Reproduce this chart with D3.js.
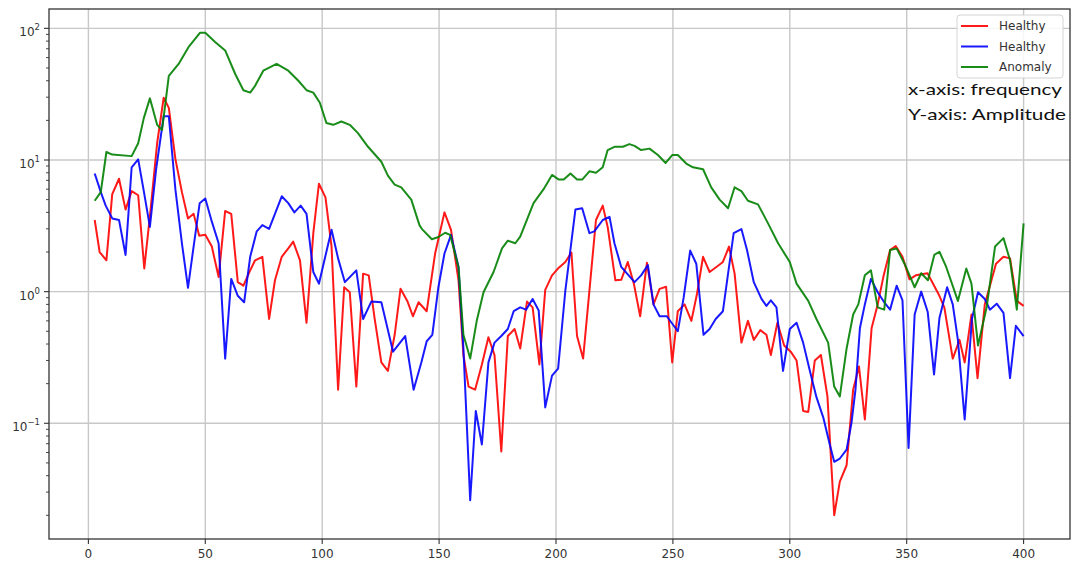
<!DOCTYPE html>
<html>
<head>
<meta charset="utf-8">
<script src="https://cdn.jsdelivr.net/npm/d3@7"></script>
<style>
  html, body { margin: 0; padding: 0; background: #fff; }
  svg { display: block; }
</style>
</head>
<body>
<svg id="chart" width="1073" height="564"></svg>
<script>
// spectrum vertices: [frequency, amplitude]
const healthyRed = [
  [2.7,3.5],[4.8,2.0],[7.7,1.73],[10.2,5.5],[13.1,7.2],[15.9,4.2],[18.5,5.8],[21.3,5.4],[23.9,1.5],[26.6,4.2],
  [29.4,13.4],[32.2,29.7],[34.4,24.9],[37.2,10.2],[40,5.7],[42.6,3.6],[45,3.9],[47.4,2.66],[50,2.7],[52.8,2.2],
  [55.7,1.29],[58.5,4.1],[61.1,3.9],[63.9,1.18],[66.3,1.11],[69.2,1.45],[71.3,1.73],[74.4,1.84],[77.3,0.62],[79.8,1.22],
  [82.7,1.84],[85.5,2.13],[87.6,2.4],[90.5,1.73],[93.3,0.58],[96.2,2.78],[98.6,6.6],[101.4,5.2],[104,2.2],[106.8,0.18],
  [109.4,1.08],[111.8,0.99],[114.6,0.19],[117.5,1.37],[119.9,1.33],[122.4,0.63],[125.3,0.29],[128.1,0.25],[131,0.47],[133.5,1.05],
  [136.4,0.85],[138.8,0.65],[141.2,0.83],[144.7,0.71],[148.3,1.95],[152.3,4.0],[155.1,2.95],[158.3,1.22],[160.4,0.33],[162.6,0.19],
  [165.4,0.18],[168.3,0.28],[171.1,0.45],[173.7,0.33],[176.6,0.061],[179.4,0.46],[182.3,0.52],[184.7,0.37],[187.6,0.84],[190,0.76],
  [192.9,0.28],[195.4,1.03],[198.3,1.33],[201.2,1.52],[204,1.68],[206.6,1.98],[209,0.46],[211.6,0.31],[217.1,3.5],[220,4.5],
  [222.1,3.1],[225.4,1.22],[227.9,1.23],[230.7,1.68],[233.3,1.15],[236,0.65],[238.9,1.66],[241.7,0.8],[244.3,1.05],[247.1,1.09],
  [249.7,0.29],[252.1,0.71],[255,0.8],[257.9,0.6],[260.3,0.96],[262.9,1.84],[265.7,1.41],[268.6,1.54],[271.4,1.68],[274,2.2],
  [276.4,1.37],[279.3,0.41],[282.1,0.6],[284.6,0.43],[287.4,0.51],[290,0.47],[291.9,0.33],[294.7,0.58],[297.6,0.39],[300.4,0.35],
  [302.9,0.3],[305.7,0.124],[307.9,0.122],[310.7,0.3],[313.3,0.33],[316.1,0.16],[319,0.02],[321.4,0.036],[324.3,0.048],[327.1,0.18],
  [329.6,0.27],[332.1,0.107],[335,0.53],[337.6,0.8],[340,1.29],[342.9,2.07],[345.3,2.22],[348.2,1.84],[351.2,1.24],[353.9,1.33],
  [358.9,1.38],[363.6,0.96],[366.1,0.76],[369.7,0.31],[372.6,0.43],[374.8,0.29],[377.7,0.67],[380.3,0.22],[383.4,0.8],[388.2,1.63],
  [391.4,1.84],[394.2,1.79],[397.1,0.85],[400,0.78]
];

const healthyBlue = [
  [2.7,7.9],[5.3,5.7],[7.4,4.5],[10.2,3.6],[13.1,3.5],[15.9,1.9],[18.5,8.8],[21.3,10.1],[23.7,5.8],[26.3,3.1],
  [29,8.6],[32.2,21.5],[34.4,21.5],[37.2,6.0],[40,2.33],[42.6,1.07],[45,2.2],[47.6,4.7],[50,5.1],[52.8,3.4],
  [55.7,2.33],[58.5,0.31],[61.1,1.25],[63.9,0.93],[66.6,0.83],[69.2,1.84],[72,2.87],[74.4,3.2],[77.3,3.0],[82.7,5.3],
  [85.5,4.7],[88.1,4.0],[90.8,4.5],[93.3,3.9],[96.2,1.41],[98.6,1.15],[104,2.95],[106.8,1.79],[109.7,1.18],[114.6,1.45],
  [117.5,0.62],[121,0.84],[125.3,0.83],[130.3,0.35],[135.5,0.46],[139.1,0.18],[142.4,0.29],[144.7,0.42],[147.1,0.47],[149.7,1.08],
  [152.3,1.95],[155.1,2.7],[158.3,1.54],[160.4,0.37],[163.3,0.026],[165.7,0.124],[168.3,0.069],[171.1,0.29],[173.7,0.41],[176.6,0.46],
  [179.4,0.52],[181.9,0.71],[184.7,0.76],[187.2,0.73],[190,0.88],[192.6,0.72],[195.4,0.132],[198.3,0.23],[200.9,0.26],[204,1.02],
  [208.3,4.2],[211.2,4.3],[214.3,2.78],[216.4,2.87],[220,3.5],[222.9,3.7],[225,2.33],[227.9,1.54],[233.6,1.18],[236.4,1.33],
  [239.3,1.59],[241.7,0.8],[244.3,0.65],[247.4,0.65],[252.1,0.5],[254.6,0.9],[257.4,2.05],[260,1.63],[263.1,0.47],[265.7,0.52],
  [268.3,0.62],[271.4,0.71],[273.6,1.37],[276,2.78],[279.3,2.99],[281.7,2.07],[284.6,1.18],[287.9,0.88],[290,0.78],[291.9,0.86],
  [294.3,0.76],[297.1,0.25],[300,0.52],[302.9,0.58],[305.7,0.41],[308.6,0.25],[311.4,0.158],[314.3,0.111],[317.1,0.069],[319,0.051],
  [321.4,0.054],[324.3,0.063],[326.4,0.101],[328.1,0.18],[330,0.53],[332.1,0.8],[334.7,1.25],[337.6,0.99],[340.4,0.83],[342.9,0.73],
  [345.7,1.11],[348.2,0.86],[350.8,0.065],[353.4,0.67],[356.2,1.0],[359,0.7],[361.7,0.235],[364,0.63],[367.3,1.08],[369.7,0.8],
  [371.9,0.43],[374.8,0.107],[377.9,0.62],[380.5,0.99],[383.4,0.88],[385.6,0.73],[388.5,0.81],[391.4,0.69],[394.2,0.22],[396.7,0.55],
  [400,0.46]
];

const anomalyGreen = [
  [2.7,4.9],[5.3,5.7],[7.7,11.5],[10.2,11.0],[18.5,10.7],[21.3,13.4],[23.7,20.8],[26.3,29.4],[29.4,18.5],[31.5,16.9],
  [34.4,43.6],[38.6,53.7],[42.8,72],[47.8,92.7],[50,92.7],[54.2,78.9],[58.5,68],[62.8,45],[66.3,33.9],[69.2,32.5],
  [71.3,36.6],[74.8,47.7],[80.5,53.7],[85.5,47.7],[89.8,40],[93.3,33.9],[96.2,32.5],[99,27.2],[101.8,19.1],[104.7,18.5],
  [108.2,19.6],[111.8,18.5],[115.3,16],[119.6,12.6],[125.3,9.7],[128.1,7.6],[131,6.5],[133.8,6.2],[138.1,5.0],[141.6,3.2],
  [142.6,3.0],[146.9,2.5],[149.7,2.6],[152.6,2.8],[154.7,2.7],[158.3,1.54],[160.4,0.47],[163.3,0.31],[166.1,0.6],[169,0.99],
  [173.3,1.41],[176.9,2.13],[179.4,2.44],[182.6,2.33],[184.7,2.62],[190.4,4.7],[194.7,6.0],[198.3,7.7],[201.2,7.1],[203.3,7.1],
  [206.2,7.9],[209,7.1],[211.2,7.1],[214.3,8.2],[217.1,8.0],[220,8.8],[222.1,11.9],[225,12.6],[228.6,12.6],[231.4,13.2],
  [233.6,12.8],[236.4,11.9],[240,12.2],[243.6,10.9],[246.9,9.5],[249.7,10.9],[252.1,10.9],[255.7,9.4],[258.6,8.8],[262.9,8.5],
  [266.4,6.2],[270,5.0],[273.6,4.3],[276.4,6.2],[279.3,5.8],[282.1,4.9],[286.4,4.6],[290.7,3.3],[295,2.33],[300,1.68],
  [302.9,1.15],[307.9,0.85],[311.4,0.62],[316.4,0.41],[319,0.19],[321.4,0.16],[324.3,0.37],[327.1,0.67],[329.3,0.8],[332.1,1.33],
  [334.7,1.45],[337.6,0.76],[340.4,0.73],[342.9,2.07],[345.7,2.13],[349.3,1.6],[353.4,1.08],[356.2,1.38],[359.1,1.22],[361.8,1.9],
  [364,2.01],[366.9,1.54],[371.9,0.85],[375.5,1.5],[377.7,1.15],[380.5,0.39],[384.2,0.76],[387.8,2.2],[391.4,2.55],[394.2,1.73],
  [397.1,0.73],[400,3.3]
];

const xTicks = [0, 50, 100, 150, 200, 250, 300, 350, 400];
const yExponents = [-1, 0, 1, 2];
const legendLabels = ['Healthy', 'Healthy', 'Anomaly'];
const notes = ['x-axis: frequency', 'Y-axis: Amplitude'];

const seriesList = [
  { data: healthyRed, color: '#ff0000' },
  { data: healthyBlue, color: '#0000ff' },
  { data: anomalyGreen, color: '#008000' },
];

const L = 49, T = 9, R = 1070, B = 539;
const svg = d3.select('#chart');

const x = d3.scaleLinear().domain([-16.85, 419.85]).range([L, R]);
const y = d3.scaleLog().domain([Math.pow(10, -1.879), Math.pow(10, 2.147)]).range([B, T]);

const tickFont = 'DejaVu Sans, sans-serif';
const axisColor = '#333';

// grid
const grid = svg.append('g').attr('stroke', '#c8c8c8').attr('stroke-width', 1.4);
xTicks.forEach(t => {
  grid.append('line').attr('x1', x(t)).attr('x2', x(t)).attr('y1', T).attr('y2', B);
});
yExponents.forEach(e => {
  const v = Math.pow(10, e);
  grid.append('line').attr('x1', L).attr('x2', R).attr('y1', y(v)).attr('y2', y(v));
});

// lines
svg.append('defs').append('clipPath').attr('id', 'plot-clip')
  .append('rect').attr('x', L).attr('y', T).attr('width', R - L).attr('height', B - T);

const line = d3.line().x(d => x(d[0])).y(d => y(d[1]));
const lineG = svg.append('g').attr('clip-path', 'url(#plot-clip)');
seriesList.forEach(s => {
  lineG.append('path')
    .attr('d', line(s.data))
    .attr('fill', 'none')
    .attr('stroke', s.color)
    .attr('stroke-width', 2)
    .attr('stroke-opacity', 0.9)
    .attr('stroke-linejoin', 'round');
});

// frame
svg.append('rect')
  .attr('x', L).attr('y', T).attr('width', R - L).attr('height', B - T)
  .attr('fill', 'none').attr('stroke', axisColor).attr('stroke-width', 1.3);

// x ticks
const xAxis = svg.append('g');
xTicks.forEach(t => {
  xAxis.append('line').attr('x1', x(t)).attr('x2', x(t)).attr('y1', B).attr('y2', B + 5)
    .attr('stroke', axisColor).attr('stroke-width', 1.1);
  xAxis.append('text')
    .attr('x', x(t)).attr('y', B + 19)
    .attr('text-anchor', 'middle')
    .attr('font-family', tickFont).attr('font-size', 12)
    .attr('fill', axisColor)
    .text(t);
});

// y ticks, major + log minors
const yAxis = svg.append('g');
const [y0, y1] = y.domain();
for (let e = -2; e <= 2; e++) {
  for (let k = 2; k <= 9; k++) {
    const v = k * Math.pow(10, e);
    if (v < y0 || v > y1) continue;
    yAxis.append('line').attr('x1', L - 3).attr('x2', L).attr('y1', y(v)).attr('y2', y(v))
      .attr('stroke', axisColor).attr('stroke-width', 0.9);
  }
}
yExponents.forEach(e => {
  const v = Math.pow(10, e);
  yAxis.append('line').attr('x1', L - 5).attr('x2', L).attr('y1', y(v)).attr('y2', y(v))
    .attr('stroke', axisColor).attr('stroke-width', 1.1);
  const txt = yAxis.append('text')
    .attr('x', L - 9).attr('y', y(v) + 8)
    .attr('text-anchor', 'end')
    .attr('font-family', tickFont).attr('font-size', 12)
    .attr('fill', axisColor);
  txt.append('tspan').text('10');
  txt.append('tspan').attr('dy', -6).attr('font-size', 8.5)
    .text(e < 0 ? '\u2212' + Math.abs(e) : e);
});

// legend
const leg = svg.append('g');
leg.append('rect')
  .attr('x', 957).attr('y', 15).attr('width', 106).attr('height', 63).attr('rx', 3)
  .attr('fill', '#fff').attr('fill-opacity', 0.85)
  .attr('stroke', '#d4d4d4').attr('stroke-width', 1);
seriesList.forEach((s, i) => {
  const ly = 26 + i * 20.5;
  leg.append('line').attr('x1', 961).attr('x2', 988).attr('y1', ly).attr('y2', ly)
    .attr('stroke', s.color).attr('stroke-width', 2).attr('stroke-opacity', 0.9);
  leg.append('text')
    .attr('x', 999).attr('y', ly + 4)
    .attr('font-family', tickFont).attr('font-size', 12)
    .attr('fill', axisColor)
    .text(legendLabels[i]);
});

// axis notes
notes.forEach((n, i) => {
  svg.append('text')
    .attr('x', 908).attr('y', 95 + i * 25)
    .attr('font-family', 'Lato, "Open Sans", sans-serif')
    .attr('font-size', 16)
    .attr('fill', '#111')
    .attr('textLength', i === 0 ? 154 : 158)
    .attr('lengthAdjust', 'spacingAndGlyphs')
    .text(n);
});
</script>
</body>
</html>
